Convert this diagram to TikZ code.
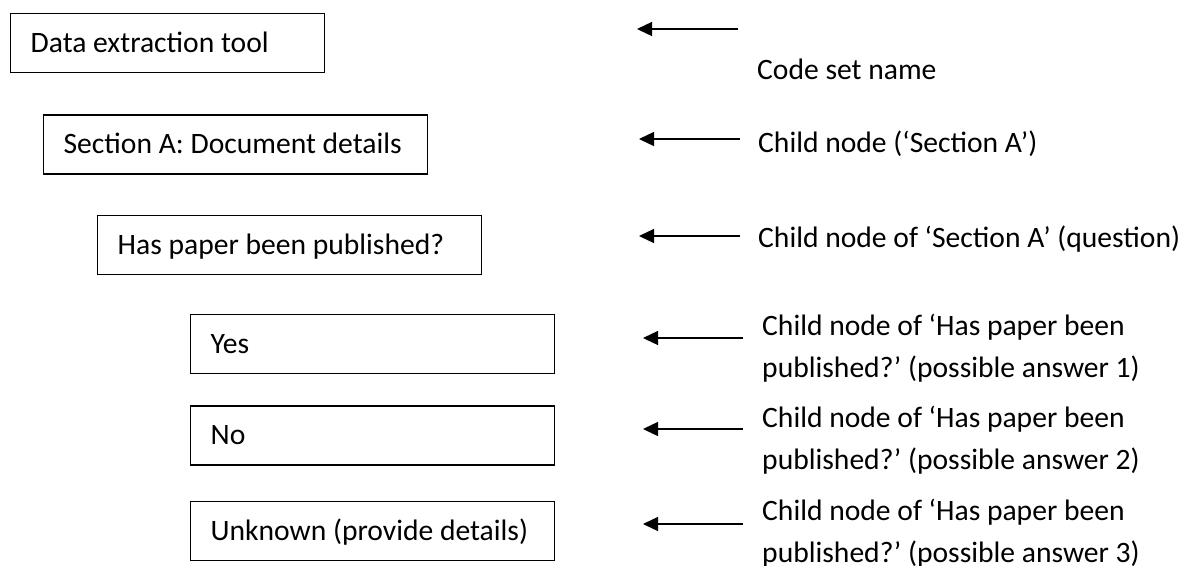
\documentclass[tikz,border=0pt]{standalone}
\usepackage{fontspec}
\setmainfont{Carlito}
\usepackage{tikz}
\usetikzlibrary{arrows.meta,positioning}
\frenchspacing

\begin{document}
\begin{tikzpicture}[
   x=1pt,y=1pt,
   >={Triangle[length=15pt,width=14pt]},
   txt/.style={font=\fontsize{29.6}{42}\selectfont},
   box/.style={draw,line width=1.3pt,minimum height=59pt,inner xsep=20pt,
               inner ysep=0pt,text height=25pt,text depth=6pt,align=flush left,txt},
   lbl/.style={inner sep=0pt,anchor=base west,align=flush left,txt},
   ptr/.style={->,line width=1.4pt}
  ]
  \useasboundingbox (0,0) rectangle (1180,-565);

  % boxes of the code set
  \node[box,text width=274pt,anchor=north west] (tool) at (10,-13) {Data extraction tool};
  \node[box,text width=344pt,below right=41pt and 33pt of tool.south west]  (secta) {Section A: Document details};
  \node[box,text width=344pt,below right=40pt and 54pt of secta.south west] (quest) {Has paper been published?};
  \node[box,text width=324pt,below right=39pt and 93pt of quest.south west] (yes) {Yes};
  \node[box,text width=324pt,below right=31pt and 0pt of yes.south west]  (no)  {No};
  \node[box,text width=324pt,below right=35pt and 0pt of no.south west]   (unk) {Unknown (provide details)};

  % notes on the right
  \node[lbl] (nset)   at (757,-79)  {Code set name};
  \node[lbl] (nsect)  at (758,-152) {Child node (‘Section A’)};
  \node[lbl] (nquest) at (758,-247) {Child node of ‘Section A’ (question)};
  \node[lbl,text width=410pt] (nyes) at (762,-335) {Child node of ‘Has paper been\\published?’ (possible answer 1)};
  \node[lbl,text width=410pt] (nno)  at (762,-427) {Child node of ‘Has paper been\\published?’ (possible answer 2)};
  \node[lbl,text width=410pt] (nunk) at (762,-520) {Child node of ‘Has paper been\\published?’ (possible answer 3)};

  % arrow ends
  \coordinate (t1) at (738,-29);  \coordinate (h1) at (637,-29);
  \coordinate (t2) at (740,-139); \coordinate (h2) at (639,-139);
  \coordinate (t3) at (740,-236); \coordinate (h3) at (639,-236);
  \coordinate (t4) at (743,-338); \coordinate (h4) at (643,-338);
  \coordinate (t5) at (743,-429); \coordinate (h5) at (643,-429);
  \coordinate (t6) at (743,-524); \coordinate (h6) at (643,-524);

  \draw[ptr] (t1) -- (h1);
  \draw[ptr] (t2) -- (h2);
  \draw[ptr] (t3) -- (h3);
  \draw[ptr] (t4) -- (h4);
  \draw[ptr] (t5) -- (h5);
  \draw[ptr] (t6) -- (h6);
\end{tikzpicture}
\end{document}
